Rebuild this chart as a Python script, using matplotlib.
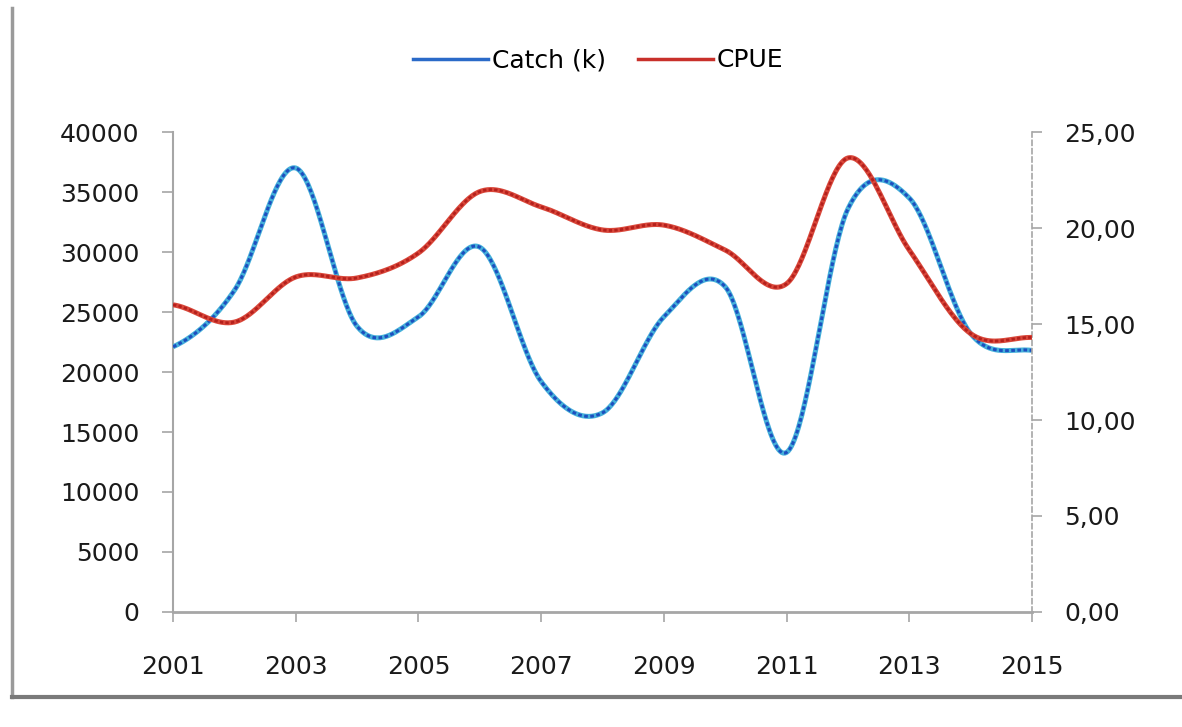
import numpy as np
import matplotlib
matplotlib.use("Agg")
from matplotlib import pyplot as plt
from matplotlib.lines import Line2D
from matplotlib.ticker import FuncFormatter

years = [2001, 2002, 2003, 2004, 2005, 2006, 2007, 2008,
         2009, 2010, 2011, 2012, 2013, 2014, 2015]
catch_k = [22100, 26800, 37000, 23800, 24600, 30400, 19200, 16600,
           24600, 27100, 13300, 33600, 34500, 23200, 21800]
cpue = [16.0, 15.1, 17.45, 17.4, 18.7, 21.9, 21.1, 19.9,
        20.15, 18.85, 17.1, 23.65, 18.85, 14.5, 14.3]
xticks = [2001, 2003, 2005, 2007, 2009, 2011, 2013, 2015]


def smooth(x, y, n=40):
    # Excel-like smoothed line: cubic Hermite with Catmull-Rom tangents
    x = np.asarray(x, float)
    y = np.asarray(y, float)
    m = np.empty_like(y)
    m[1:-1] = (y[2:] - y[:-2]) / 2
    m[0] = (y[1] - y[0]) / 2
    m[-1] = (y[-1] - y[-2]) / 2
    xs, ys = [], []
    for i in range(len(x) - 1):
        t = np.linspace(0, 1, n, endpoint=False)
        h00 = 2 * t**3 - 3 * t**2 + 1
        h10 = t**3 - 2 * t**2 + t
        h01 = -2 * t**3 + 3 * t**2
        h11 = t**3 - t**2
        xs.append(x[i] + t * (x[i + 1] - x[i]))
        ys.append(h00 * y[i] + h10 * m[i] + h01 * y[i + 1] + h11 * m[i + 1])
    xs.append([x[-1]])
    ys.append([y[-1]])
    return np.concatenate(xs), np.concatenate(ys)


plt.rcParams["font.family"] = "DejaVu Sans"
fig = plt.figure(figsize=(11.82, 7.27), dpi=100)
ax = fig.add_axes([0.1464, 0.1582, 0.7267, 0.6602])
ax2 = ax.twinx()

cx, cy = smooth(years, catch_k)
px, py = smooth(years, cpue)

ax.plot(cx, cy, color="#45B0DA", lw=3.6, solid_capstyle="butt", zorder=3)
ax.plot(cx, cy, color="#1D4FBF", lw=2.2, ls=(0, (1.2, 0.8)), zorder=4)
ax2.plot(px, py, color="#D9473A", lw=3.6, solid_capstyle="butt", zorder=3)
ax2.plot(px, py, color="#B5201C", lw=2.0, ls=(0, (1.2, 0.8)), zorder=4)

ax.set_xlim(2001, 2015)
ax.set_ylim(0, 40000)
ax2.set_ylim(0, 25)
ax.set_xticks(xticks)
ax.set_yticks(np.arange(0, 40001, 5000))
ax2.set_yticks(np.arange(0, 25.1, 5))
ax2.yaxis.set_major_formatter(FuncFormatter(lambda v, p: f"{v:.2f}".replace(".", ",")))

for a in (ax, ax2):
    a.spines["top"].set_visible(False)
ax.spines["right"].set_visible(False)
ax.spines["left"].set_color("#A6A6A6")
ax.spines["bottom"].set_color("#A6A6A6")
ax.spines["left"].set_linewidth(1.5)
ax.spines["bottom"].set_linewidth(2)
ax2.spines["left"].set_visible(False)
ax2.spines["bottom"].set_visible(False)
ax2.spines["right"].set_color("#A6A6A6")
ax2.spines["right"].set_linestyle((0, (3, 2)))
ax2.spines["right"].set_linewidth(1.2)

ax.tick_params(axis="y", direction="out", length=8, width=1.2, color="#A6A6A6",
               labelsize=18, labelcolor="#1A1A1A", pad=16)
ax.tick_params(axis="x", direction="out", length=7, width=1.2, color="#A6A6A6",
               labelsize=18, labelcolor="#1A1A1A", pad=24)
ax2.tick_params(axis="y", direction="out", length=7, width=1.2, color="#A6A6A6",
                labelsize=18, labelcolor="#1A1A1A", pad=16)

handles = [Line2D([], [], color="#2A6AC8", lw=2.5),
           Line2D([], [], color="#C8302A", lw=2.5)]
fig.legend(handles, ["Catch (k)", "CPUE"], loc="center", bbox_to_anchor=(0.506, 0.917),
           ncol=2, frameon=False, fontsize=18, handlelength=3.0, handletextpad=0.15,
           columnspacing=1.3)

# chart border (left and bottom edges only visible)
fig.add_artist(Line2D([12 / 1182, 12 / 1182], [1 - 8 / 727, 1 - 697 / 727],
                      transform=fig.transFigure, color="#9A9A9A", lw=2.5))
fig.add_artist(Line2D([12 / 1182, 1.0], [1 - 697 / 727, 1 - 697 / 727],
                      transform=fig.transFigure, color="#7A7A7A", lw=3))

fig.savefig("out.png", dpi=100)
